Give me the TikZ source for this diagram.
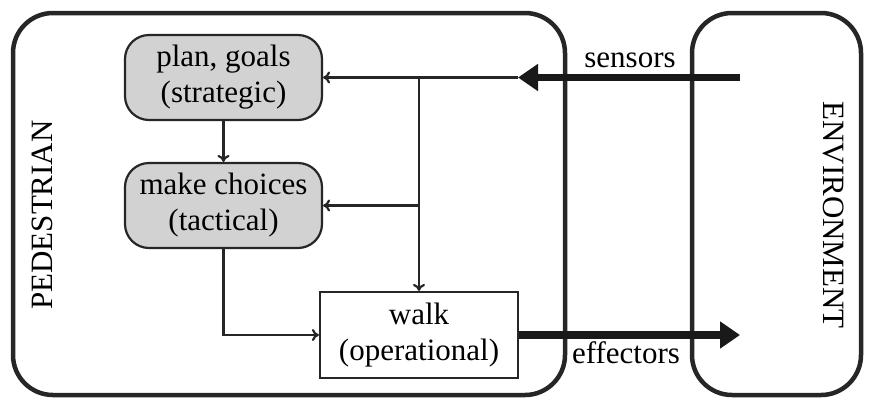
\documentclass[tikz,border=0pt]{standalone}
\usepackage{fontspec}
\setmainfont{Liberation Serif}
\usetikzlibrary{arrows.meta}
\begin{document}
\begin{tikzpicture}[x=1pt,y=-1pt,
  lbl/.style={font=\fontsize{31}{36}\selectfont},
  frame/.style={line width=4.5pt,rounded corners=40pt},
  gbox/.style={lbl,draw=black!85,line width=2.2pt,fill=gray!35!white,
    rounded corners=24pt,minimum width=197pt,minimum height=85pt,
    align=center,inner sep=0pt},
  wbox/.style={lbl,draw=black!85,line width=2.2pt,fill=white,
    minimum width=198pt,minimum height=86pt,align=center,inner sep=0pt},
  thin/.style={line width=2.2pt,draw=black!85,-{To[length=7pt,width=12pt]}},
  thick/.style={line width=7.5pt,draw=black!90,-{Triangle[length=20pt,width=26pt]}}]
\useasboundingbox (0,0) rectangle (872,400);

% pedestrian and environment frames
\draw[frame,draw=black!85] (13,13) rectangle (565,395);
\draw[frame,draw=black!85] (692,13) rectangle (861,395);
\node[lbl,rotate=90] (ped) at (42,215) {PEDESTRIAN};
\node[lbl,rotate=-90] (env) at (834,215) {ENVIRONMENT};

% decision levels
\node[gbox] (plan) at (223.5,77.5) {plan, goals\\(strategic)};
\node[gbox] (choices) at (223.5,205.5) {make choices\\(tactical)};
\node[wbox] (walk) at (419,335) {walk\\(operational)};

% sensor input and its distribution
\coordinate (s0) at (740,77.5);
\coordinate (s1) at (518,77.5);
\coordinate (j) at (walk.north |- plan.east);
\draw[thick] (s0) -- (s1);
\draw[thin] (s1) -- (plan.east);
\draw[thin] (j) -- (walk.north);
\draw[thin] (j |- choices.east) -- (choices.east);
\draw[thin] (plan.south) -- (choices.north);
\draw[thin] (choices.south) |- (walk.west);

% effector output
\coordinate (e1) at (740,335);
\draw[thick] (walk.east) -- (e1);

\node[lbl] (sens) at (630,60) {sensors};
\node[lbl] (eff) at (626,353) {effectors};
\end{tikzpicture}
\end{document}
